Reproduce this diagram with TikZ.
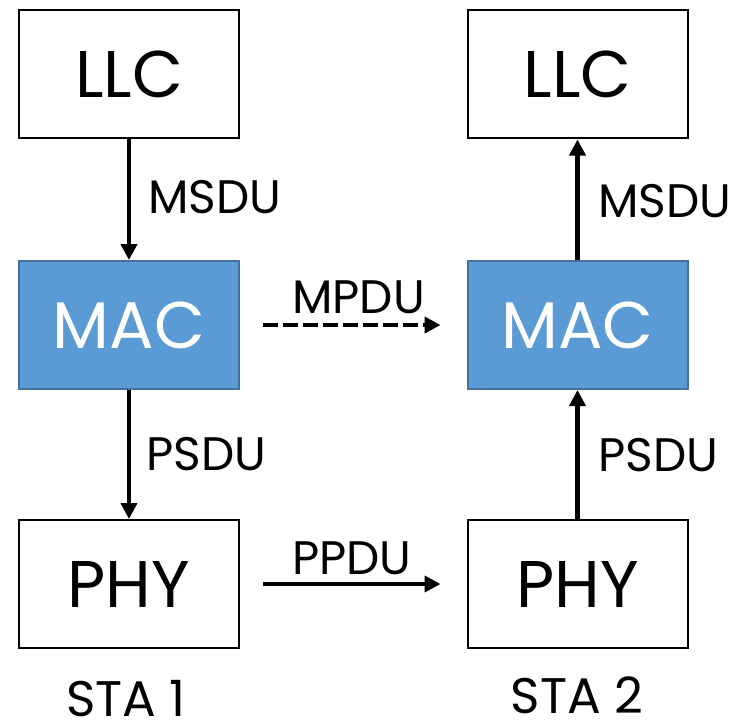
\documentclass[tikz,border=0pt]{standalone}
\usepackage{fontspec}
\setmainfont{Poppins}
\usetikzlibrary{arrows.meta}

\definecolor{macfill}{HTML}{5B9BD5}
\definecolor{macedge}{HTML}{41719C}

\tikzset{
  layer/.style={draw=black, line width=2pt, fill=white,
    minimum width=220pt, minimum height=128pt, inner sep=0pt,
    font=\fontsize{66}{70}\selectfont},
  maclayer/.style={layer, draw=macedge, fill=macfill, text=white},
  flow/.style={line width=4.6pt, -{Triangle[length=16pt,width=16pt]}},
  unit/.style={anchor=base west, inner sep=0pt, font=\fontsize{47}{50}\selectfont},
  station/.style={anchor=base, inner sep=0pt, font=\fontsize{50}{54}\selectfont}
}

\begin{document}
\begin{tikzpicture}[x=1pt, y=-1pt]
\useasboundingbox (0,0) rectangle (740,725);

% STA 1 stack
\node[layer]    (llcA) at (129,74.5) {LLC};
\node[maclayer] (macA) at (129,325)  {MAC};
\node[layer]    (phyA) at (129,584)  {PHY};

% STA 2 stack
\node[layer]    (llcB) at (577.5,74.5) {LLC};
\node[maclayer] (macB) at (577.5,325)  {MAC};
\node[layer]    (phyB) at (577.5,584)  {PHY};

% vertical data units
\draw[flow] (llcA.south) -- (macA.north);
\draw[flow] (macA.south) -- (phyA.north);
\draw[flow] (phyB.north) -- (macB.south);
\draw[flow] (macB.north) -- (llcB.south);

% peer exchanges
\draw[flow, dash pattern=on 15pt off 5pt, shorten <=23pt, shorten >=26pt]
  (macA.east) -- (macB.west);
\draw[flow, shorten <=23pt, shorten >=26pt] (phyA.east) -- (phyB.west);

% data unit names
\node[unit] (msduA) at (148,213) {MSDU};
\node[unit] (psduA) at (146,470) {PSDU};
\node[unit] (msduB) at (598,217) {MSDU};
\node[unit] (psduB) at (598,471) {PSDU};
\node[unit] (mpdu)  at (292,313) {MPDU};
\node[unit] (ppdu)  at (292,574) {PPDU};

% station names
\node[station] (staA) at (126,716) {STA 1};
\node[station] (staB) at (577,713) {STA 2};
\end{tikzpicture}
\end{document}
